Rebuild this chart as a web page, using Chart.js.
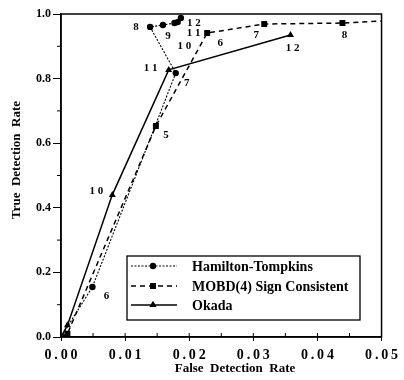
<!DOCTYPE html>
<html>
<head>
<meta charset="utf-8">
<script src="https://cdn.jsdelivr.net/npm/chart.js@4.4.1/dist/chart.umd.min.js"></script>
<style>
  html, body { margin: 0; padding: 0; background: #fff; }
  #wrap { width: 404px; height: 380px; }
</style>
</head>
<body>
<div id="wrap"><canvas id="c" width="404" height="380"></canvas></div>
<script>
// ---- data ----
const xTickValues = [0, 0.01, 0.02, 0.03, 0.04, 0.05];
const xTickLabels = ['0.00', '0.01', '0.02', '0.03', '0.04', '0.05'];
const yTickValues = [0, 0.2, 0.4, 0.6, 0.8, 1.0];
const yTickLabels = ['0.0', '0.2', '0.4', '0.6', '0.8', '1.0'];

const seriesNames = ['Hamilton-Tompkins', 'MOBD(4) Sign Consistent', 'Okada'];

const htX = [0, 0.0049, 0.0179, 0.0139, 0.0159, 0.0177, 0.0182, 0.0187];
const htY = [0, 0.155, 0.817, 0.960, 0.966, 0.972, 0.975, 0.988];
const htLabels = ['', '6', '7', '8', '9', '1 0', '1 1', '1 2'];

const mobdX = [0, 0.001, 0.0148, 0.0228, 0.0317, 0.0439, 0.056];
const mobdY = [0, 0.010, 0.653, 0.941, 0.969, 0.972, 0.984];
const mobdLabels = ['', '', '5', '6', '7', '8', ''];

const okX = [0, 0.001, 0.0080, 0.0168, 0.0358];
const okY = [0, 0.036, 0.440, 0.827, 0.935];
const okLabels = ['', '', '1 0', '1 1', '1 2'];

const xTitle = 'False  Detection  Rate';
const yTitle = 'True  Detection  Rate';

// ---- presentation ----
const SERIF = '"Liberation Serif", "Times New Roman", serif';
const labelOffsets = [
  [[0,0],[14,9],[11,10],[-14,0],[5,11],[10,23],[16,11],[13,5]],
  [[0,0],[0,0],[10,9],[13,10],[-8,11],[2,12],[0,0]],
  [[0,0],[0,0],[-16,-4],[-18,-2],[2,13]]
];
const pts = (xs, ys) => xs.map((x, i) => ({ x: x, y: ys[i] }));

const datasets = [
  { label: seriesNames[0], data: pts(htX, htY), pointLabels: htLabels,
    borderColor: '#000', backgroundColor: '#000', borderWidth: 1.1, borderDash: [2, 1.5],
    pointStyle: 'circle', pointRadius: 3.2, pointBorderWidth: 0, showLine: true, tension: 0 },
  { label: seriesNames[1], data: pts(mobdX, mobdY), pointLabels: mobdLabels,
    borderColor: '#000', backgroundColor: '#000', borderWidth: 1.5, borderDash: [5, 4],
    pointStyle: 'rect', pointRadius: 4.2, pointBorderWidth: 0, showLine: true, tension: 0 },
  { label: seriesNames[2], data: pts(okX, okY), pointLabels: okLabels,
    borderColor: '#000', backgroundColor: '#000', borderWidth: 1.5, borderDash: [],
    pointStyle: 'triangle', pointRadius: 4, pointBorderWidth: 0, showLine: true, tension: 0 }
];

const decorPlugin = {
  id: 'decor',
  afterDatasetsDraw(chart) {
    const ctx = chart.ctx;
    const ca = chart.chartArea;
    const xs = chart.scales.x, ys = chart.scales.y;
    ctx.save();
    // frame
    ctx.strokeStyle = '#000';
    ctx.lineWidth = 1.5;
    ctx.setLineDash([]);
    ctx.strokeRect(ca.left, ca.top, ca.right - ca.left, ca.bottom - ca.top);
    // x ticks inside (major & minor)
    ctx.lineWidth = 1;
    for (let k = 0; k <= 10; k++) {
      const px = xs.getPixelForValue(k * 0.005);
      ctx.beginPath();
      ctx.moveTo(px, ca.bottom);
      ctx.lineTo(px, ca.bottom - 4);
      ctx.stroke();
    }
    // y minor ticks outside
    for (let k = 1; k < 10; k += 2) {
      const py = ys.getPixelForValue(k * 0.1);
      ctx.beginPath();
      ctx.moveTo(ca.left, py);
      ctx.lineTo(ca.left - 4, py);
      ctx.stroke();
    }
    // point labels
    ctx.fillStyle = '#000';
    ctx.font = 'bold 11px ' + SERIF;
    ctx.textAlign = 'center';
    ctx.textBaseline = 'middle';
    chart.data.datasets.forEach((ds, di) => {
      const meta = chart.getDatasetMeta(di);
      meta.data.forEach((el, i) => {
        const t = ds.pointLabels[i];
        if (!t) return;
        const off = labelOffsets[di][i];
        ctx.fillText(t, el.x + off[0], el.y + off[1]);
      });
    });
    // legend box
    const bx = 127, by = 256, bw = 233, bh = 64;
    ctx.fillStyle = '#fff';
    ctx.fillRect(bx, by, bw, bh);
    ctx.strokeStyle = '#000';
    ctx.lineWidth = 1.3;
    ctx.strokeRect(bx, by, bw, bh);
    const rowsY = [by + 10, by + 30, by + 49];
    chart.data.datasets.forEach((ds, di) => {
      const yy = rowsY[di];
      ctx.strokeStyle = '#000';
      ctx.lineWidth = ds.borderWidth;
      ctx.setLineDash(ds.borderDash);
      ctx.beginPath();
      ctx.moveTo(bx + 4, yy);
      ctx.lineTo(bx + 50, yy);
      ctx.stroke();
      ctx.setLineDash([]);
      Chart.helpers.drawPoint(ctx, { pointStyle: ds.pointStyle, radius: ds.pointRadius, borderWidth: 0, rotation: 0 }, bx + 26, yy);
      ctx.fillStyle = '#000';
      ctx.fill();
      ctx.font = 'bold 14px ' + SERIF;
      ctx.textAlign = 'left';
      ctx.textBaseline = 'middle';
      ctx.fillText(ds.label, bx + 65, yy + 1);
    });
    // axis titles
    ctx.fillStyle = '#000';
    ctx.font = 'bold 13px ' + SERIF;
    ctx.textAlign = 'center';
    ctx.textBaseline = 'middle';
    ctx.fillText(xTitle, 235, 369);
    ctx.save();
    ctx.translate(17, 160);
    ctx.rotate(-Math.PI / 2);
    ctx.fillText(yTitle, 0, 0);
    ctx.restore();
    ctx.restore();
  }
};

new Chart(document.getElementById('c'), {
  type: 'scatter',
  data: { datasets: datasets },
  options: {
    responsive: false,
    animation: false,
    layout: { padding: { left: 0, right: 16, top: 14, bottom: 0 } },
    plugins: { legend: { display: false }, tooltip: { enabled: false } },
    scales: {
      x: {
        type: 'linear', min: 0, max: 0.05,
        afterBuildTicks: s => { s.ticks = xTickValues.map(v => ({ value: v })); },
        afterFit: s => { s.height = 43; },
        ticks: {
          color: '#000', padding: 6, maxRotation: 0,
          font: { family: SERIF, size: 14, weight: 'bold' },
          callback: (v, i) => xTickLabels[i].split('').join('\u2009')
        },
        grid: { drawOnChartArea: false, drawTicks: true, tickLength: 4, color: '#000', lineWidth: 1 },
        border: { display: true, color: '#000', width: 1.5 }
      },
      y: {
        type: 'linear', min: 0, max: 1,
        afterBuildTicks: s => { s.ticks = yTickValues.map(v => ({ value: v })); },
        afterFit: s => { s.width = 61; },
        ticks: {
          color: '#000', padding: 2,
          font: { family: SERIF, size: 12, weight: 'bold' },
          callback: (v, i) => yTickLabels[i]
        },
        grid: { drawOnChartArea: false, drawTicks: true, tickLength: 8, color: '#000', lineWidth: 1 },
        border: { display: true, color: '#000', width: 1.5 }
      }
    }
  },
  plugins: [decorPlugin]
});
</script>
</body>
</html>
